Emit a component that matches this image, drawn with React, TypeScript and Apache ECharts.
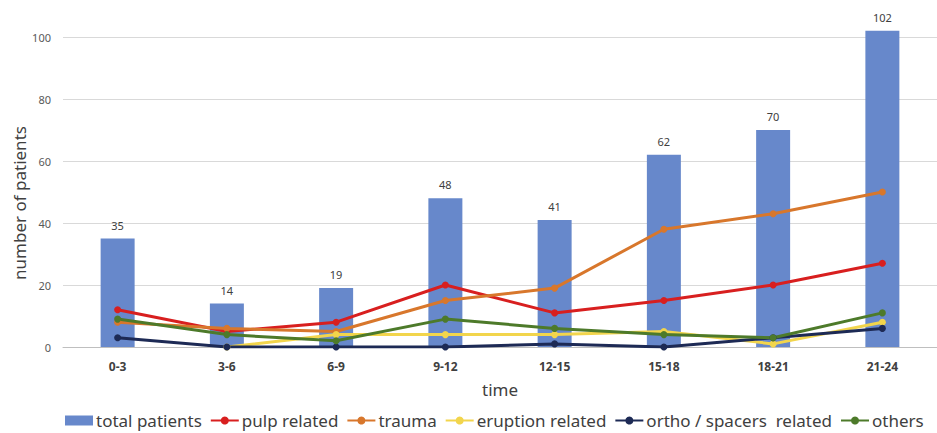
import React, { useEffect, useRef } from "react";
import * as echarts from "echarts";

const categories = ["0-3", "3-6", "6-9", "9-12", "12-15", "15-18", "18-21", "21-24"];
const totalPatients = [35, 14, 19, 48, 41, 62, 70, 102];
const pulpRelated = [12, 5, 8, 20, 11, 15, 20, 27];
const trauma = [8, 6, 5, 15, 19, 38, 43, 50];
const eruptionRelated = [null, 0, 4, 4, 4, 5, 1, 8];
const orthoSpacers = [3, 0, 0, 0, 1, 0, 3, 6];
const others = [9, 4, 2, 9, 6, 4, 3, 11];
const yTicks = [0, 20, 40, 60, 80, 100];

const FONT = "'Noto Sans', sans-serif";

export default function App() {
  const ref = useRef<HTMLDivElement>(null);
  useEffect(() => {
    document.body.style.margin = "0";
    const chart = echarts.init(ref.current!, null, { renderer: "svg" });
    const lineSeries = (name: string, data: any[], color: string) => ({
      name,
      type: "line",
      data,
      symbol: "circle",
      symbolSize: 7,
      lineStyle: { width: 3, color },
      itemStyle: { color },
      connectNulls: false,
      z: 3,
    });
    chart.setOption({
      animation: false,
      textStyle: { fontFamily: FONT },
      grid: { left: 63, right: -15, top: 37, bottom: 86, containLabel: false },
      xAxis: {
        type: "category",
        data: categories,
        axisTick: { show: false },
        axisLine: { lineStyle: { color: "#bfbfbf", width: 1 } },
        axisLabel: { color: "#404040", fontSize: 12, fontWeight: "bold", margin: 13, fontFamily: FONT },
        name: "time",
        nameLocation: "middle",
        nameGap: 34,
        nameTextStyle: { color: "#404040", fontSize: 17, fontFamily: FONT },
      },
      yAxis: {
        type: "value",
        min: yTicks[0],
        max: yTicks[yTicks.length - 1],
        interval: 20,
        axisLine: { show: false },
        axisTick: { show: false },
        splitLine: { lineStyle: { color: "#d9d9d9", width: 1 } },
        axisLabel: { color: "#595959", fontSize: 11, margin: 12, fontFamily: FONT },
      },
      graphic: [
        {
          type: "text",
          x: 19,
          y: 203,
          rotation: Math.PI / 2,
          style: {
            text: "number of patients",
            fill: "#404040",
            font: `17px ${FONT}`,
            align: "center",
            verticalAlign: "middle",
          },
        },
      ],
      legend: {
        bottom: -1,
        left: 60,
        itemWidth: 28,
        itemHeight: 10,
        itemGap: 8,
        textStyle: { color: "#404040", fontSize: 17, fontFamily: FONT, padding: [0, 0, 0, -2] },
        data: [
          { name: "total patients", icon: "rect" },
          "pulp related",
          "trauma",
          "eruption related",
          "ortho / spacers  related",
          "others",
        ],
      },
      series: [
        {
          name: "total patients",
          type: "bar",
          data: totalPatients,
          barWidth: 34,
          clip: false,
          itemStyle: { color: "#6788CB" },
          label: {
            show: true,
            position: "top",
            distance: 8,
            color: "#404040",
            fontSize: 11,
            fontFamily: FONT,
          },
          z: 2,
        },
        lineSeries("pulp related", pulpRelated, "#D81F1F"),
        lineSeries("trauma", trauma, "#D8772C"),
        lineSeries("eruption related", eruptionRelated, "#F2D54C"),
        lineSeries("ortho / spacers  related", orthoSpacers, "#1D2A55"),
        lineSeries("others", others, "#4D7A2A"),
      ],
    });
    return () => chart.dispose();
  }, []);
  return <div ref={ref} style={{ width: 937, height: 433 }} />;
}
